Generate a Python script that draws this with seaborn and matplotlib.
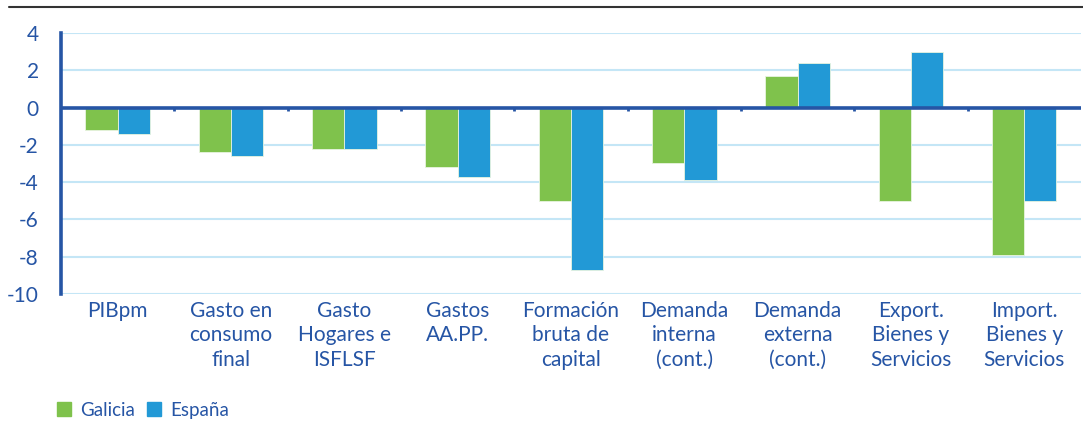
import numpy as np
import pandas as pd
import matplotlib
matplotlib.use("Agg")
import matplotlib.pyplot as plt
import seaborn as sns
from matplotlib.lines import Line2D

categorias = ["PIBpm", "Gasto en\nconsumo\nfinal", "Gasto\nHogares e\nISFLSF", "Gastos\nAA.PP.",
              "Formación\nbruta de\ncapital", "Demanda\ninterna\n(cont.)", "Demanda\nexterna\n(cont.)",
              "Export.\nBienes y\nServicios", "Import.\nBienes y\nServicios"]
galicia = [-1.2, -2.4, -2.2, -3.2, -5.0, -3.0, 1.7, -5.0, -7.9]
espana = [-1.4, -2.6, -2.2, -3.7, -8.7, -3.9, 2.4, 3.0, -5.0]
yticks = [4, 2, 0, -2, -4, -6, -8, -10]

verde = "#7fc24c"
azul = "#2299d6"
oscuro = "#2655a5"
grid_c = "#c4e6f6"

df = pd.DataFrame({
    "cat": categorias * 2,
    "valor": galicia + espana,
    "serie": ["Galicia"] * len(categorias) + ["España"] * len(categorias),
})

sns.set_style("white")
plt.rcParams["font.family"] = ["Lato", "DejaVu Sans"]

fig = plt.figure(figsize=(10.83, 4.21), dpi=100)
ax = fig.add_axes([0.0563, 0.3017, 0.9417, 0.62])

sns.barplot(data=df, x="cat", y="valor", hue="serie", palette=[verde, azul], saturation=1,
            width=0.57, gap=0, edgecolor="#e8f4e0", linewidth=0.6, legend=False, ax=ax, zorder=3)

ax.set_ylim(-10, 4)
ax.set_xlim(-0.5, len(categorias) - 0.5)
ax.set_yticks(yticks)
ax.set_yticklabels([str(t) for t in yticks])
ax.yaxis.grid(True, color=grid_c, lw=1.5, zorder=0)
ax.set_axisbelow(True)
ax.set_xlabel("")
ax.set_ylabel("")

for s in ["top", "right", "bottom"]:
    ax.spines[s].set_visible(False)
ax.spines["left"].set_color(oscuro)
ax.spines["left"].set_linewidth(2.6)
ax.tick_params(axis="y", colors=oscuro, labelsize=15, length=6, width=2, direction="out", pad=10)
ax.tick_params(axis="x", colors=oscuro, labelsize=15, length=0, pad=5)
for lab in ax.get_xticklabels():
    lab.set_linespacing(1.28)

# eje en cero con marcas entre categorías
ax.axhline(0, color=oscuro, lw=2.6, zorder=4)
bordes = np.arange(0.5, len(categorias) - 0.5, 1.0)
ax.vlines(bordes, -0.2, 0, color=oscuro, lw=2, zorder=4)

# línea superior del encabezado
fig.add_artist(Line2D([0.008, 1.0], [0.983, 0.983], color="#333333", lw=1.5))

handles = [plt.Rectangle((0, 0), 1, 1, color=verde), plt.Rectangle((0, 0), 1, 1, color=azul)]
fig.legend(handles, ["Galicia", "España"], loc="center left", bbox_to_anchor=(0.037, 0.026),
           ncol=2, frameon=False, fontsize=13.5, handlelength=0.75, handleheight=0.75,
           handletextpad=0.5, columnspacing=0.6, labelcolor=oscuro)

fig.savefig("out.png", dpi=100)
